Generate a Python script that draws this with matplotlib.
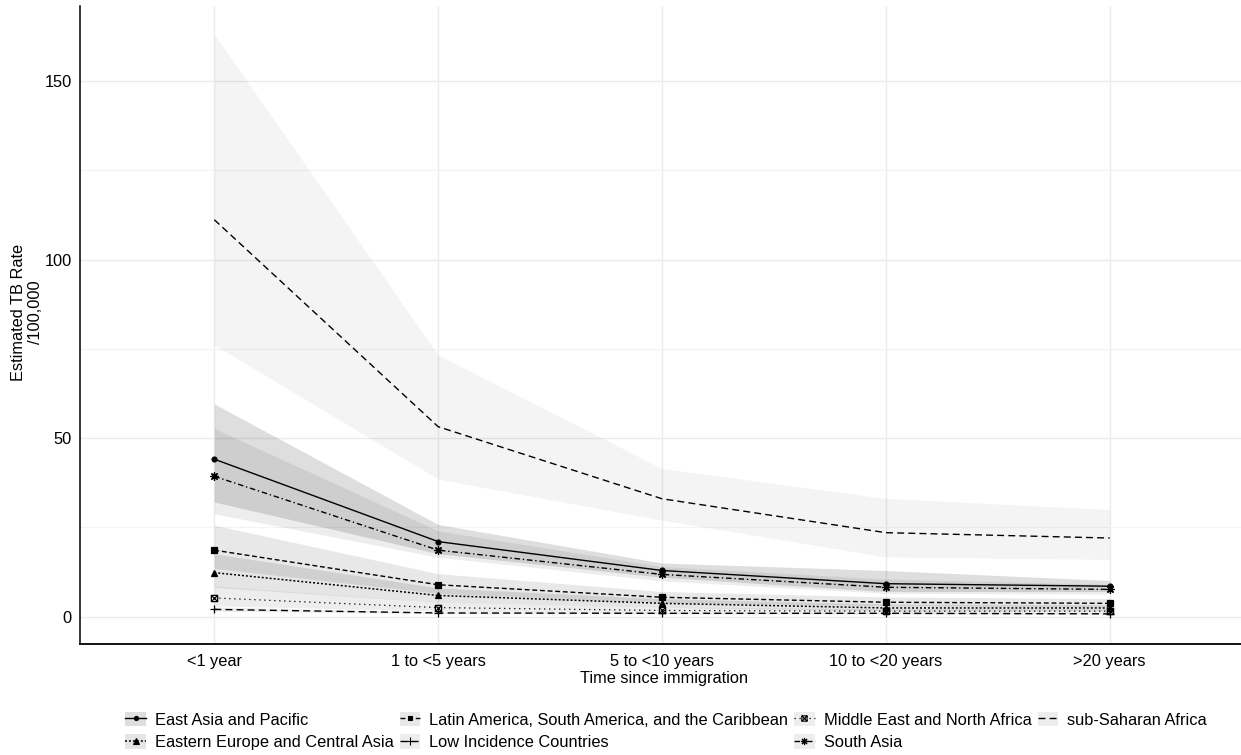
import matplotlib
matplotlib.use("Agg")
import matplotlib.pyplot as plt
from matplotlib.path import Path
from matplotlib.patches import Patch
from matplotlib.lines import Line2D
import numpy as np

plt.rcParams['font.family'] = ['Liberation Sans', 'DejaVu Sans']

categories = ["<1 year", "1 to <5 years", "5 to <10 years", "10 to <20 years", ">20 years"]

regions = ["East Asia and Pacific", "Eastern Europe and Central Asia",
           "Latin America, South America, and the Caribbean", "Low Incidence Countries",
           "Middle East and North Africa", "South Asia", "sub-Saharan Africa"]

# estimates
ea_est = [44.1, 21.0, 12.9, 9.2, 8.5]
ee_est = [12.3, 5.9, 3.7, 2.4, 2.4]
la_est = [18.6, 8.9, 5.4, 4.0, 3.7]
lo_est = [2.0, 1.0, 0.9, 0.9, 0.75]
me_est = [5.2, 2.5, 1.7, 1.5, 1.5]
sa_est = [39.3, 18.6, 11.8, 8.2, 7.6]
ssa_est = [111.2, 53.2, 33.0, 23.5, 22.0]

# lower confidence limits
ea_lo = [32.1, 17.6, 11.0, 7.0, 7.0]
ee_lo = [8.2, 4.0, 2.6, 1.6, 1.6]
la_lo = [13.5, 6.5, 4.0, 3.0, 2.7]
lo_lo = [1.5, 0.8, 0.7, 0.7, 0.6]
me_lo = [3.0, 1.5, 1.0, 0.9, 0.9]
sa_lo = [28.8, 16.6, 10.0, 6.5, 6.3]
ssa_lo = [76.1, 38.5, 27.0, 16.7, 16.0]

# upper confidence limits
ea_hi = [59.6, 25.8, 15.0, 12.9, 10.1]
ee_hi = [17.6, 8.0, 5.0, 3.5, 3.3]
la_hi = [25.6, 12.0, 7.0, 5.5, 5.0]
lo_hi = [2.7, 1.3, 1.1, 1.1, 1.0]
me_hi = [8.5, 4.0, 2.6, 2.2, 2.2]
sa_hi = [52.7, 24.0, 14.0, 10.5, 9.0]
ssa_hi = [163.2, 73.3, 41.5, 33.1, 30.0]

ests = [ea_est, ee_est, la_est, lo_est, me_est, sa_est, ssa_est]
los = [ea_lo, ee_lo, la_lo, lo_lo, me_lo, sa_lo, ssa_lo]
his = [ea_hi, ee_hi, la_hi, lo_hi, me_hi, sa_hi, ssa_hi]

# styles
box_x = Path([(-1, -1), (1, -1), (1, 1), (-1, 1), (-1, -1), (-1, -1), (1, 1), (-1, 1), (1, -1)],
             [Path.MOVETO, Path.LINETO, Path.LINETO, Path.LINETO, Path.CLOSEPOLY,
              Path.MOVETO, Path.LINETO, Path.MOVETO, Path.LINETO])
linestyles = ['-', (0, (1.3, 1.3)), (0, (3.5, 2)), (0, (5, 3)), (0, (1, 3)), (0, (4, 2, 1, 2)), (0, (5, 3))]
markers = ['o', '^', 's', '+', box_x, (8, 2, 0), None]
msizes = [3.5, 4.5, 4.2, 6, 4.5, 6, 0]
band_alpha = [0.13, 0.10, 0.09, 0.07, 0.07, 0.07, 0.045]
line_w = [1.0, 1.1, 1.0, 1.0, 0.9, 1.0, 1.0]

fig = plt.figure(figsize=(12.41, 7.55), dpi=100)
W, H = 1241, 755
ax = fig.add_axes([80 / W, (H - 644) / H, (1244 - 80) / W, (644 - 6) / H])

x = np.arange(1, len(categories) + 1)

for i in range(len(regions)):
    ax.fill_between(x, los[i], his[i], color=(0, 0, 0, band_alpha[i]), linewidth=0, zorder=1)

for i in range(len(regions)):
    mk = markers[i]
    ax.plot(x, ests[i], color='black', linestyle=linestyles[i], linewidth=line_w[i],
            marker=mk, markersize=msizes[i],
            markerfacecolor='none' if mk is box_x else 'black',
            markeredgecolor='black', markeredgewidth=0.9, zorder=3)

ax.set_xlim(0.4, 5.6)
ax.set_ylim(-7.7, 171.1)
ax.set_xticks(x)
ax.set_xticklabels(categories)
ax.set_yticks([0, 50, 100, 150])
ax.set_yticks([25, 75, 125], minor=True)
ax.tick_params(axis='both', which='both', length=0, labelsize=11.75, colors='black')
ax.tick_params(axis='y', pad=6)
ax.tick_params(axis='x', pad=7)
ax.grid(True, which='major', color='#ebebeb', linewidth=1.0, zorder=0)
ax.grid(True, which='minor', axis='y', color='#f3f3f3', linewidth=0.8, zorder=0)
ax.set_axisbelow(True)
for s in ['top', 'right']:
    ax.spines[s].set_visible(False)
ax.spines['left'].set_linewidth(1.1)
ax.spines['bottom'].set_linewidth(1.3)

fig.text(664 / W, 1 - 678 / H, "Time since immigration", ha='center', va='center', fontsize=11.75)
fig.text(27 / W, 1 - 312 / H, "Estimated TB Rate\n/100,000", ha='center', va='center',
         rotation=90, fontsize=11.75, multialignment='center', linespacing=1.1)

handles = []
for i in range(len(regions)):
    mk = markers[i]
    ln = Line2D([], [], color='black', linestyle=linestyles[i], linewidth=line_w[i],
                marker=mk, markersize=msizes[i] * 0.85,
                markerfacecolor='none' if mk is box_x else 'black',
                markeredgecolor='black', markeredgewidth=0.8)
    p = Patch(facecolor=(0, 0, 0, max(band_alpha[i], 0.07)), edgecolor='none')
    handles.append((p, ln))

fig.legend(handles, regions, ncol=4, loc='center', bbox_to_anchor=(666 / W, 1 - 731 / H),
           frameon=False, fontsize=11.75, handlelength=1.25, handleheight=1.0,
           handletextpad=0.55, columnspacing=0.38, labelspacing=0.4, borderpad=0)

fig.savefig("out.png", dpi=100)
